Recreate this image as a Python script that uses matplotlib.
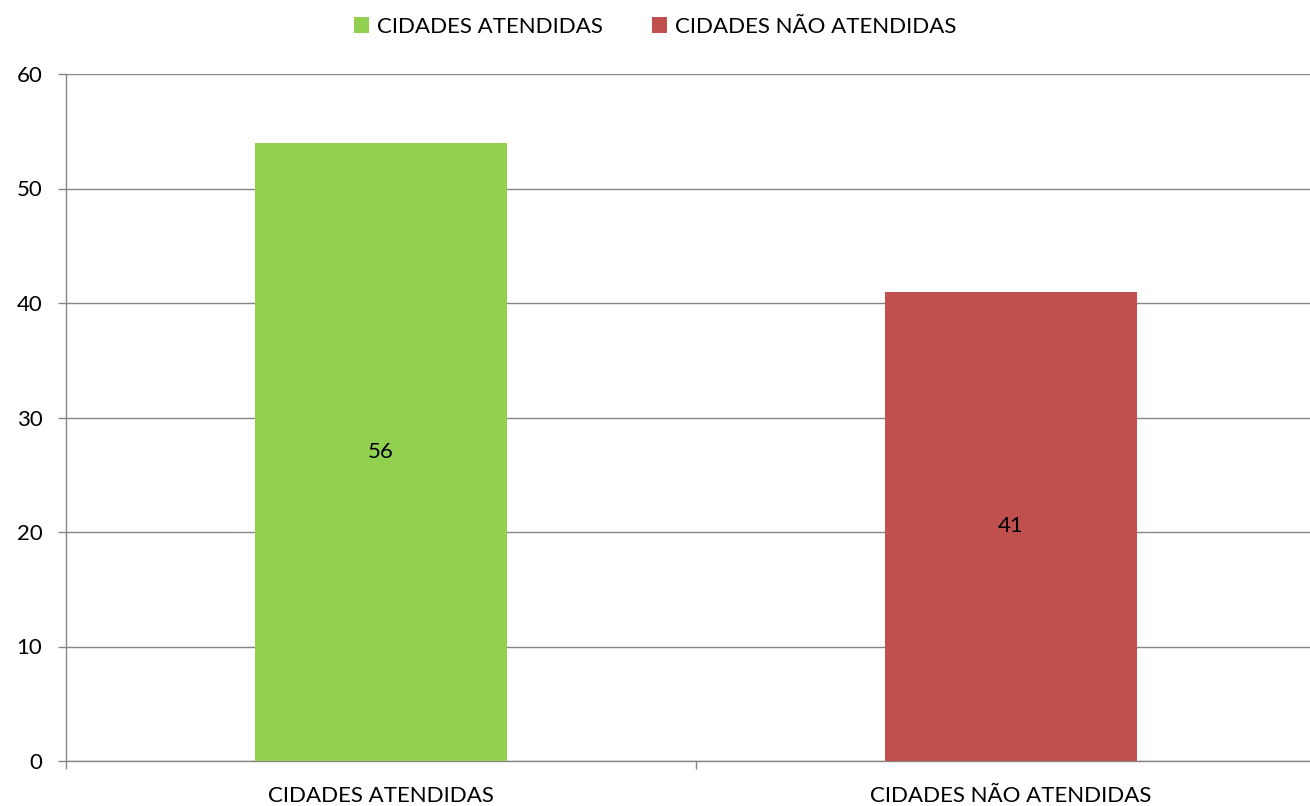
import matplotlib
matplotlib.use("Agg")
import matplotlib.pyplot as plt
from matplotlib.patches import Patch

categories = ["CIDADES ATENDIDAS", "CIDADES NÃO ATENDIDAS"]
values = [54, 41]
value_labels = ["56", "41"]
colors = ["#92D050", "#C0504D"]
yticks = [0, 10, 20, 30, 40, 50, 60]

plt.rcParams['font.family'] = ['Lato', 'DejaVu Sans']
FS = 16

fig = plt.figure(figsize=(13.10, 8.06), dpi=100)
W, H = 1310, 806
ax = fig.add_axes([66 / W, 1 - 761 / H, (1326 - 66) / W, (761 - 74) / H])

x = list(range(len(categories)))
bars = ax.bar(x, values, width=0.4, color=colors, zorder=3)
for b, lab in zip(bars, value_labels):
    ax.text(b.get_x() + b.get_width() / 2, b.get_height() / 2, lab,
            ha="center", va="center", fontsize=FS, color="black", zorder=4)

ax.set_xlim(-0.5, len(categories) - 0.5)
ax.set_ylim(0, 60)
ax.set_yticks(yticks)
ax.set_yticklabels([str(v) for v in yticks], fontsize=FS)
ax.set_xticks(x)
ax.set_xticklabels(categories, fontsize=FS)
ax.set_xticks([i - 0.5 for i in range(len(categories) + 1)], minor=True)
ax.tick_params(axis="x", which="major", length=0, pad=18)
ax.tick_params(axis="x", which="minor", length=6, color="#868686", width=1)
ax.tick_params(axis="y", length=6, color="#868686", width=1, pad=11)

ax.grid(axis="y", color="#868686", linewidth=1, zorder=0)
for s in ["top", "right"]:
    ax.spines[s].set_visible(False)
for s in ["left", "bottom"]:
    ax.spines[s].set_color("#868686")
    ax.spines[s].set_linewidth(1)

handles = [Patch(facecolor=c, edgecolor="none") for c in colors]
fig.legend(handles, categories, loc="upper center", bbox_to_anchor=(0.5, 1.0),
           ncol=2, frameon=False, fontsize=FS, handlelength=0.7, handleheight=0.7,
           handletextpad=0.35, columnspacing=2.2, borderaxespad=0.35)

fig.savefig("out.png", dpi=100)
